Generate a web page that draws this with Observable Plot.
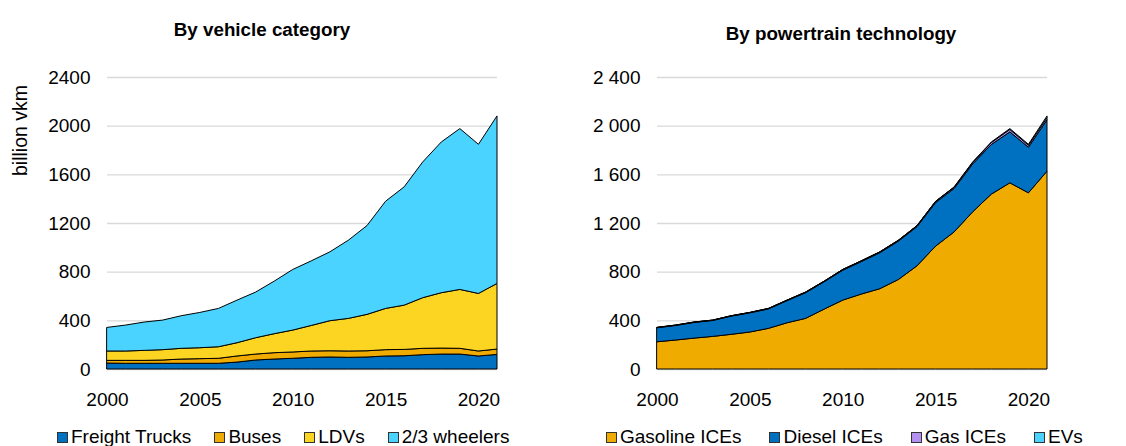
<!DOCTYPE html>
<html>
<head>
<meta charset="utf-8">
<script src="https://cdn.jsdelivr.net/npm/d3@7"></script>
<script src="https://cdn.jsdelivr.net/npm/@observablehq/plot@0.6"></script>
<style>
  body { margin: 0; background: #fff; font-family: "Liberation Sans", Arial, sans-serif; color: #000; }
  #wrap { position: relative; width: 1126px; height: 446px; overflow: hidden; }
  .panel { position: absolute; top: 0; height: 446px; width: 563px; }
  .title { position: absolute; font-weight: bold; font-size: 18.8px; line-height: 22px; text-align: center; }
  .chart { position: absolute; top: 50px; left: 0; }
  .ylab { position: absolute; font-size: 19.5px; transform: rotate(-90deg); transform-origin: center center; white-space: nowrap; }
  .legend { position: absolute; top: 426px; display: flex; font-size: 19px; line-height: 22px; white-space: nowrap; }
  .item { display: flex; align-items: center; }
  .sw { width: 9px; height: 9px; border: 1px solid #333; margin-right: 3px; }
</style>
</head>
<body>
<div id="wrap">
  <div class="panel" id="left" style="left:0">
    <div class="title" style="left:0; width:524px; top:19px">By vehicle category</div>
    <div class="ylab" style="left:-30px; top:119px; width:100px; text-align:center">billion vkm</div>
    <div class="chart" id="chartL"></div>
    <div class="legend" id="legL" style="left:57px; gap:23px"></div>
  </div>
  <div class="panel" id="right" style="left:563px">
    <div class="title" style="left:0; width:556px; top:23px">By powertrain technology</div>
    <div class="chart" id="chartR"></div>
    <div class="legend" id="legR" style="left:43px; gap:28px"></div>
  </div>
</div>
<script>
// ---- Data (billion vkm) ----
const years = [2000,2001,2002,2003,2004,2005,2006,2007,2008,2009,2010,2011,2012,2013,2014,2015,2016,2017,2018,2019,2020,2021];

// By vehicle category
const vehSeries = ["Freight Trucks","Buses","LDVs","2/3 wheelers"];
const vehColors = ["#0070C0","#F0AB00","#FCD422","#4AD3FF"];
const freightTrucks = [49,47,47,47,47,47,47,57,74,82,88,96,99,96,99,107,109,118,123,123,107,120];
const buses         = [22,24,24,27,35,38,41,50,49,52,52,52,51,52,51,52,52,52,49,47,41,44];
const ldvs          = [77,77,82,85,88,90,95,109,134,156,180,210,247,268,299,339,364,416,455,484,473,539];
const wheelers23    = [194,213,233,243,268,290,315,350,375,432,498,531,566,643,730,881,972,1116,1239,1322,1226,1377];

// By powertrain technology
const ptSeries = ["Gasoline ICEs","Diesel ICEs","Gas ICEs","EVs"];
const ptColors = ["#F0AB00","#0070C0","#B491F0","#4AD3FF"];
const gasolineICEs = [224,238,254,268,285,304,334,380,416,492,566,616,660,736,848,1010,1127,1292,1437,1530,1448,1626];
const dieselICEs   = [115,120,129,131,150,158,160,182,211,225,246,267,296,315,322,358,357,394,408,419,375,422];
const gasICEs      = [3,3,3,3,3,3,4,4,5,5,6,6,7,7,8,9,10,12,16,20,16,18];
const evs          = [0,0,0,0,0,0,0,0,0,0,0,0,0,1,1,2,3,4,5,7,8,14];

// Axis ticks
const xTicks = [2000,2005,2010,2015,2020];
const yTicks = [0,400,800,1200,1600,2000,2400];

// ---- Build tidy tables ----
function tidy(names, arrays) {
  const out = [];
  names.forEach((n, i) => years.forEach((y, j) => out.push({year: y, series: n, value: arrays[i][j]})));
  return out;
}
const vehData = tidy(vehSeries, [freightTrucks, buses, ldvs, wheelers23]);
const ptData  = tidy(ptSeries, [gasolineICEs, dieselICEs, gasICEs, evs]);

function makeChart(data, names, colors, ml, mr, yFmt) {
  return Plot.plot({
    width: 563, height: 360,
    marginTop: 27, marginBottom: 41, marginLeft: ml, marginRight: mr,
    style: { fontSize: "19px", fontFamily: "Liberation Sans, Arial, sans-serif", color: "#000", background: "transparent" },
    x: { domain: [2000, 2021], ticks: xTicks, tickFormat: d => String(d), tickSize: 0, tickPadding: 23, label: null },
    y: { domain: [0, 2400], ticks: yTicks, tickFormat: yFmt, tickSize: 0, tickPadding: 17, label: null },
    color: { domain: names, range: colors },
    marks: [
      Plot.gridY(yTicks, { stroke: "#d9d9d9", strokeOpacity: 1, strokeWidth: 1.3 }),
      Plot.areaY(data, { x: "year", y: "value", fill: "series", order: names, stroke: "#000", strokeWidth: 1 })
    ]
  });
}

document.getElementById("chartL").append(
  makeChart(vehData, vehSeries, vehColors, 107, 66, d => String(d)));
document.getElementById("chartR").append(
  makeChart(ptData, ptSeries, ptColors, 94, 79, d => d3.format(",")(d).replace(/,/g, " ")));

function legend(el, names, colors) {
  names.forEach((n, i) => {
    const it = document.createElement("div");
    it.className = "item";
    const sw = document.createElement("span");
    sw.className = "sw";
    sw.style.background = colors[i];
    const tx = document.createElement("span");
    tx.textContent = n;
    it.append(sw, tx);
    el.append(it);
  });
}
legend(document.getElementById("legL"), vehSeries, vehColors);
legend(document.getElementById("legR"), ptSeries, ptColors);
</script>
</body>
</html>
